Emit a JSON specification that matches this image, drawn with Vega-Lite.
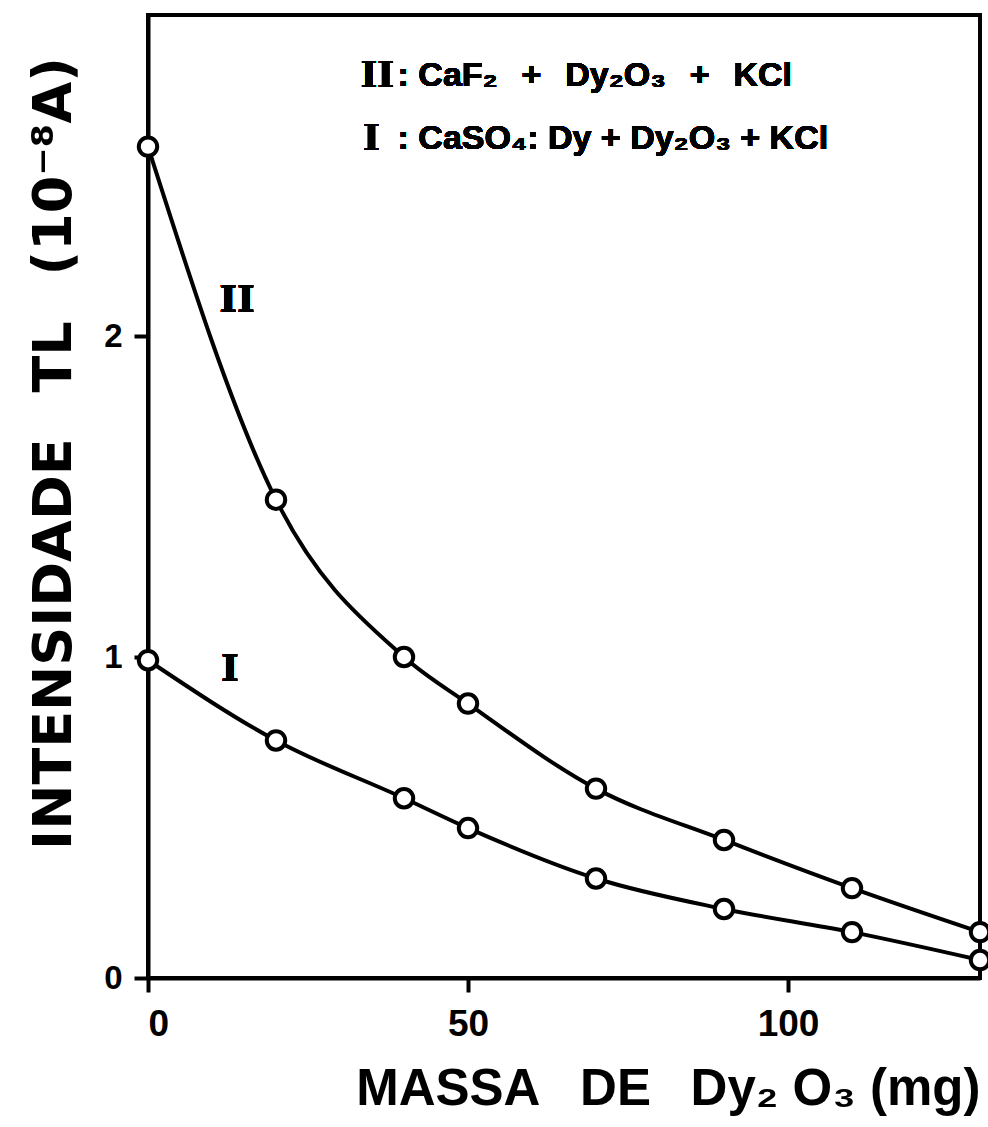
{
  "$schema": "https://vega.github.io/schema/vega-lite/v6.json",
  "width": 832,
  "height": 963,
  "autosize": {"type": "none"},
  "padding": {"left": 148, "top": 15, "right": 8, "bottom": 149},
  "background": "white",
  "config": {
    "view": {"stroke": "black", "strokeWidth": 4},
    "axis": {
      "grid": false,
      "domainColor": "black",
      "domainWidth": 4,
      "tickColor": "black",
      "tickWidth": 4,
      "tickSize": 14,
      "labelFont": "Liberation Sans",
      "labelFontWeight": "bold",
      "labelColor": "black",
      "titleFont": "DejaVu Sans",
      "titleFontWeight": "bold",
      "titleColor": "black"
    }
  },
  "data": {
    "values": [
      {"serie": "II", "massa": 0, "tl": 2.59},
      {"serie": "II", "massa": 20, "tl": 1.49},
      {"serie": "II", "massa": 40, "tl": 1.0},
      {"serie": "II", "massa": 50, "tl": 0.855},
      {"serie": "II", "massa": 70, "tl": 0.59},
      {"serie": "II", "massa": 90, "tl": 0.43},
      {"serie": "II", "massa": 110, "tl": 0.28},
      {"serie": "II", "massa": 130, "tl": 0.143},
      {"serie": "I", "massa": 0, "tl": 0.99},
      {"serie": "I", "massa": 20, "tl": 0.74},
      {"serie": "I", "massa": 40, "tl": 0.56},
      {"serie": "I", "massa": 50, "tl": 0.467},
      {"serie": "I", "massa": 70, "tl": 0.31},
      {"serie": "I", "massa": 90, "tl": 0.215},
      {"serie": "I", "massa": 110, "tl": 0.143},
      {"serie": "I", "massa": 130, "tl": 0.056}
    ]
  },
  "encoding": {
    "x": {
      "field": "massa",
      "type": "quantitative",
      "scale": {"domain": [0, 130], "nice": false, "zero": false},
      "axis": {
        "values": [0, 50, 100],
        "labelFontSize": 37,
        "labelPadding": 14,
        "title": "MASSA\u2002 DE\u2002 Dy₂ O₃ (mg)",
        "titleFont": "Liberation Sans",
        "titleFontSize": 51,
        "titleAnchor": "end",
        "titlePadding": 22
      }
    },
    "y": {
      "field": "tl",
      "type": "quantitative",
      "scale": {"domain": [0, 3], "nice": false},
      "axis": {
        "values": [0, 1, 2],
        "labelFontSize": 33,
        "labelPadding": 12,
        "title": "INTENSIDADE\u2002 TL\u2002 (10⁻⁸A)",
        "titleFontSize": 54,
        "titlePadding": 22,
        "titleAnchor": "middle",
        "titleY": 438
      }
    }
  },
  "layer": [
    {
      "mark": {"type": "line", "interpolate": "monotone", "color": "black", "strokeWidth": 4},
      "encoding": {"detail": {"field": "serie"}}
    },
    {
      "mark": {"type": "point", "shape": "circle", "filled": false, "fill": "white", "fillOpacity": 1, "stroke": "black", "strokeWidth": 4, "size": 340, "opacity": 1}
    },
    {
      "mark": {"type": "text", "font": "DejaVu Serif", "fontWeight": "bold", "fontSize": 38, "align": "center", "baseline": "middle", "color": "black"},
      "encoding": {"x": {"datum": 13.9}, "y": {"datum": 2.11}, "text": {"value": "II"}}
    },
    {
      "mark": {"type": "text", "font": "DejaVu Serif", "fontWeight": "bold", "fontSize": 38, "align": "center", "baseline": "middle", "color": "black"},
      "encoding": {"x": {"datum": 12.8}, "y": {"datum": 0.958}, "text": {"value": "I"}}
    },
    {
      "mark": {"type": "text", "font": "DejaVu Serif", "fontWeight": "bold", "fontSize": 36, "align": "left", "baseline": "middle", "color": "black"},
      "encoding": {"x": {"datum": 33.2}, "y": {"datum": 2.81}, "text": {"value": "II"}}
    },
    {
      "mark": {"type": "text", "font": "DejaVu Serif", "fontWeight": "bold", "fontSize": 36, "align": "left", "baseline": "middle", "color": "black"},
      "encoding": {"x": {"datum": 33.6}, "y": {"datum": 2.614}, "text": {"value": "I"}}
    },
    {
      "mark": {"type": "text", "font": "Liberation Sans", "fontWeight": "bold", "fontSize": 34, "align": "left", "baseline": "middle", "color": "black"},
      "encoding": {"x": {"datum": 39.0}, "y": {"datum": 2.81}, "text": {"value": ": CaF₂\u2002\u2009+\u2002\u2009Dy₂O₃\u2002\u2009+\u2002\u2009KCl"}}
    },
    {
      "mark": {"type": "text", "font": "Liberation Sans", "fontWeight": "bold", "fontSize": 34, "align": "left", "baseline": "middle", "color": "black"},
      "encoding": {"x": {"datum": 39.0}, "y": {"datum": 2.614}, "text": {"value": ": CaSO₄: Dy + Dy₂O₃ + KCl"}}
    }
  ]
}
